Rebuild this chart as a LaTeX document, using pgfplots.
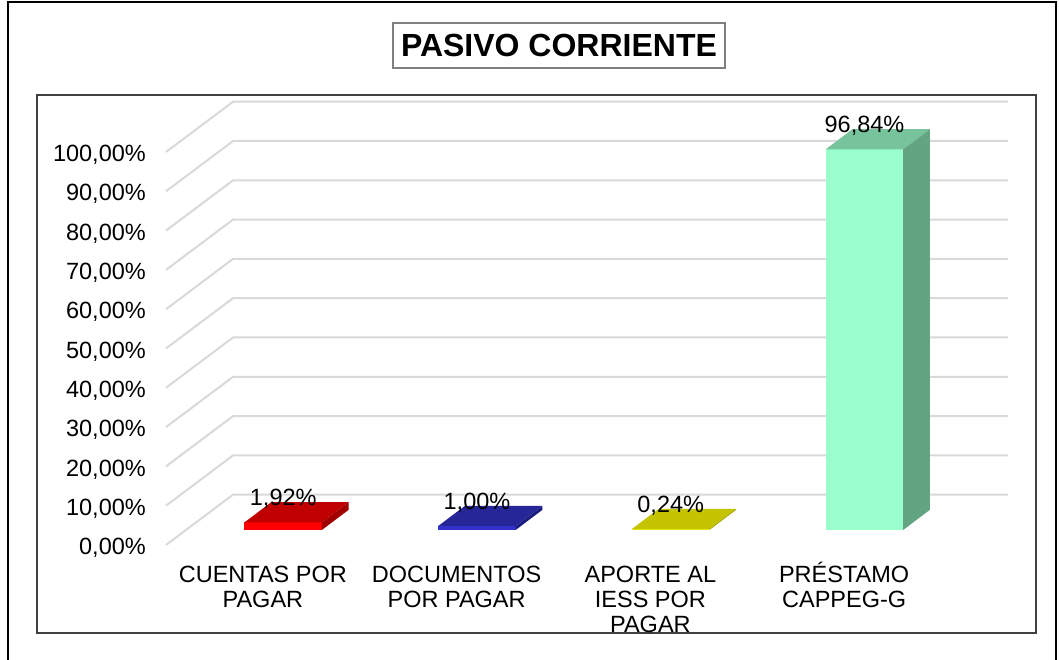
\documentclass[border=0pt]{standalone}
\usepackage{fontspec}
\setmainfont{Liberation Sans}
\usepackage{pgfplots}
\pgfplotsset{compat=1.18}
\definecolor{gridc}{HTML}{D9D9D9}
\definecolor{boxc}{HTML}{404040}
\definecolor{redF}{HTML}{FF0000}
\definecolor{redT}{HTML}{C00000}
\definecolor{redS}{HTML}{A00000}
\definecolor{bluF}{HTML}{3333CC}
\definecolor{bluT}{HTML}{262699}
\definecolor{bluS}{HTML}{1C1C80}
\definecolor{yelF}{HTML}{E6E600}
\definecolor{yelT}{HTML}{C4C400}
\definecolor{yelS}{HTML}{A0A000}
\definecolor{grnF}{HTML}{99FFCC}
\definecolor{grnT}{HTML}{77C39B}
\definecolor{grnS}{HTML}{63A582}
\begin{document}
\begin{tikzpicture}[x=1pt,y=1pt]
\path[use as bounding box] (0,0) rectangle (1059,659);
\fill[white] (0,0) rectangle (1059,659);
\draw[line width=2.5pt] (8,-10) -- (8,657) -- (1056,657) -- (1056,-10);
\draw[line width=1.8pt, color=boxc] (37,564) rectangle (1036,26);
\draw[line width=1.5pt, color=gray] (393,636) rectangle (725,591);
\node[font=\fontsize{32}{36}\selectfont\bfseries] at (559,613.5) {PASIVO CORRIENTE};
\begin{axis}[
  at={(166pt,98.28pt)}, anchor=south west,
  x=193.75pt, y=3.93pt,
  xmin=-0.5, xmax=3.847, ymin=-4, ymax=114.5,
  enlargelimits=false, clip=false,
  axis line style={draw=none}, tick style={draw=none}, major tick length=0pt,
  /pgf/number format/assume math mode=true,
  xtick={0,1,2,3},
  xticklabels={{\rule{0pt}{22pt}CUENTAS POR\\PAGAR},{\rule{0pt}{22pt}DOCUMENTOS\\POR PAGAR},{\rule{0pt}{22pt}APORTE AL\\IESS POR\\PAGAR},{\rule{0pt}{22pt}PRÉSTAMO\\CAPPEG-G}},
  ytick={0,10,20,30,40,50,60,70,80,90,100},
  yticklabels={{0,00\%},{10,00\%},{20,00\%},{30,00\%},{40,00\%},{50,00\%},{60,00\%},{70,00\%},{80,00\%},{90,00\%},{100,00\%}},
  tick label style={font=\fontsize{23.5}{25}\selectfont, inner sep=0pt, text=black},
  xticklabel style={align=center, anchor=north},
  yticklabel style={anchor=east, xshift=-20pt, yshift=-3pt},
  unbounded coords=jump,
]
% gridlines: left wall (slanted) and back wall (horizontal)
\addplot[color=gridc, line width=2pt, mark=none] coordinates {
(-0.5,0) (-0.154,12.8) (3.847,12.8) (nan,nan)
(-0.5,10) (-0.154,22.8) (3.847,22.8) (nan,nan)
(-0.5,20) (-0.154,32.8) (3.847,32.8) (nan,nan)
(-0.5,30) (-0.154,42.8) (3.847,42.8) (nan,nan)
(-0.5,40) (-0.154,52.8) (3.847,52.8) (nan,nan)
(-0.5,50) (-0.154,62.8) (3.847,62.8) (nan,nan)
(-0.5,60) (-0.154,72.8) (3.847,72.8) (nan,nan)
(-0.5,70) (-0.154,82.8) (3.847,82.8) (nan,nan)
(-0.5,80) (-0.154,92.8) (3.847,92.8) (nan,nan)
(-0.5,90) (-0.154,102.8) (3.847,102.8) (nan,nan)
(-0.5,100) (-0.154,112.8) (3.847,112.8)
};
% CUENTAS POR PAGAR 1.92
\addplot[fill=redF, draw=none, mark=none] coordinates {(-0.095,3.84) (0.305,3.84) (0.305,5.76) (-0.095,5.76)};
\addplot[fill=redT, draw=none, mark=none] coordinates {(-0.095,5.76) (0.305,5.76) (0.443,10.88) (0.043,10.88)};
\addplot[fill=redS, draw=none, mark=none] coordinates {(0.305,3.84) (0.443,8.96) (0.443,10.88) (0.305,5.76)};
% DOCUMENTOS POR PAGAR 1.00
\addplot[fill=bluF, draw=none, mark=none] coordinates {(0.905,3.84) (1.305,3.84) (1.305,4.84) (0.905,4.84)};
\addplot[fill=bluT, draw=none, mark=none] coordinates {(0.905,4.84) (1.305,4.84) (1.443,9.96) (1.043,9.96)};
\addplot[fill=bluS, draw=none, mark=none] coordinates {(1.305,3.84) (1.443,8.96) (1.443,9.96) (1.305,4.84)};
% APORTE AL IESS POR PAGAR 0.24
\addplot[fill=yelF, draw=none, mark=none] coordinates {(1.905,3.84) (2.305,3.84) (2.305,4.08) (1.905,4.08)};
\addplot[fill=yelT, draw=none, mark=none] coordinates {(1.905,4.08) (2.305,4.08) (2.443,9.20) (2.043,9.20)};
\addplot[fill=yelS, draw=none, mark=none] coordinates {(2.305,3.84) (2.443,8.96) (2.443,9.20) (2.305,4.08)};
% PRESTAMO CAPPEG-G 96.84
\addplot[fill=grnF, draw=none, mark=none] coordinates {(2.905,3.84) (3.305,3.84) (3.305,100.68) (2.905,100.68)};
\addplot[fill=grnT, draw=none, mark=none] coordinates {(2.905,100.68) (3.305,100.68) (3.443,105.80) (3.043,105.80)};
\addplot[fill=grnS, draw=none, mark=none] coordinates {(3.305,3.84) (3.443,8.96) (3.443,105.80) (3.305,100.68)};
% data labels
\addplot[draw=none, mark=none, point meta=explicit,
  nodes near coords={\pgfmathprintnumber[fixed, fixed zerofill, precision=2, use comma]{\pgfplotspointmeta}\%},
  every node near coord/.append style={font=\fontsize{23.5}{25}\selectfont, inner sep=0pt, text depth=0pt, yshift=-3.5pt, text=black}]
  coordinates {(0.105,10.88) [1.92] (1.105,9.96) [1.00] (2.105,9.20) [0.24] (3.105,105.80) [96.84]};
\end{axis}
\end{tikzpicture}
\end{document}
